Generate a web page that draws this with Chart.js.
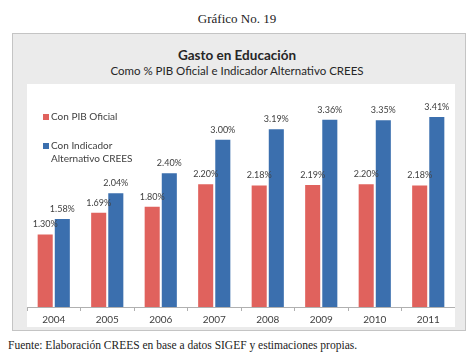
<!DOCTYPE html>
<html>
<head>
<meta charset="utf-8">
<script src="https://cdn.jsdelivr.net/npm/chart.js@4/dist/chart.umd.min.js"></script>
<style>
  html, body { margin: 0; padding: 0; background: #ffffff; }
  body { width: 474px; height: 355px; position: relative; overflow: hidden; }
  #hdr { position: absolute; left: 0; top: 11px; width: 474px; text-align: center;
         font-family: "Liberation Serif", "DejaVu Serif", serif; font-size: 13px; color: #222; }
  #box { position: absolute; left: 12px; top: 33px; width: 454px; height: 298px;
         background: #ebebeb; border: 1px solid #c4c4c4; box-sizing: border-box; }
  #title { position: absolute; left: 0; top: 47px; width: 474px; text-align: center;
           font-family: Lato, "Open Sans", sans-serif; font-weight: bold; font-size: 13.5px; color: #262626; }
  #subtitle { position: absolute; left: 0; top: 64px; width: 474px; text-align: center;
           font-family: Lato, "Open Sans", sans-serif; font-size: 11.5px; color: #262626; }
  #plot { position: absolute; left: 27px; top: 84px; width: 428px; height: 243px; background: #ffffff; }
  #foot { position: absolute; left: 8px; top: 339px; white-space: nowrap;
          font-family: "Liberation Serif", "DejaVu Serif", serif; font-size: 11.5px; color: #222; }
</style>
</head>
<body>
<div id="hdr">Gráfico No. 19</div>
<div id="box"></div>
<div id="title">Gasto en Educación</div>
<div id="subtitle">Como % PIB Oficial e Indicador Alternativo CREES</div>
<div id="plot"><canvas id="c" width="428" height="243"></canvas></div>
<div id="foot">Fuente: Elaboración CREES en base a datos SIGEF y estimaciones propias.</div>
<script>
const years = ['2004', '2005', '2006', '2007', '2008', '2009', '2010', '2011'];
const seriesNames = ['Con PIB Oficial', 'Con Indicador Alternativo CREES'];
const pibOficial = [1.30, 1.69, 1.80, 2.20, 2.18, 2.19, 2.20, 2.18];
const indicadorCrees = [1.58, 2.04, 2.40, 3.00, 3.19, 3.36, 3.35, 3.41];
const seriesColors = ['#e0625d', '#3b6fae'];

const FONT = 'Lato, "Open Sans", sans-serif';

const valueLabels = {
  id: 'valueLabels',
  afterDatasetsDraw(chart) {
    const ctx = chart.ctx;
    ctx.save();
    ctx.font = '9px ' + FONT;
    ctx.fillStyle = '#404040';
    ctx.textAlign = 'center';
    ctx.textBaseline = 'middle';
    chart.data.datasets.forEach((ds, i) => {
      chart.getDatasetMeta(i).data.forEach((bar, j) => {
        ctx.fillText(ds.data[j].toFixed(2) + '%', bar.x, bar.y - 10);
      });
    });
    ctx.restore();
  }
};

const insideLegend = {
  id: 'insideLegend',
  afterDraw(chart) {
    const ctx = chart.ctx;
    ctx.save();
    ctx.font = '10px ' + FONT;
    ctx.textBaseline = 'middle';
    ctx.textAlign = 'left';
    const x0 = 16, maxW = 90, lineH = 13;
    let y = 33;
    chart.data.datasets.forEach((ds) => {
      const words = ds.label.split(' ');
      const lines = [];
      let cur = '';
      words.forEach(w => {
        const t = cur ? cur + ' ' + w : w;
        if (ctx.measureText(t).width > maxW && cur) { lines.push(cur); cur = w; } else { cur = t; }
      });
      if (cur) lines.push(cur);
      ctx.fillStyle = ds.backgroundColor;
      ctx.fillRect(x0, y - 3, 6, 6);
      ctx.fillStyle = '#404040';
      lines.forEach((ln, k) => ctx.fillText(ln, x0 + 8, y + k * lineH));
      y += 29;
    });
    ctx.restore();
  }
};

new Chart(document.getElementById('c'), {
  type: 'bar',
  data: {
    labels: years,
    datasets: [
      { label: seriesNames[0], data: pibOficial, backgroundColor: seriesColors[0] },
      { label: seriesNames[1], data: indicadorCrees, backgroundColor: seriesColors[1] }
    ]
  },
  options: {
    responsive: false,
    animation: false,
    layout: { padding: 0 },
    categoryPercentage: 0.64,
    barPercentage: 0.88,
    plugins: { legend: { display: false }, tooltip: { enabled: false }, title: { display: false } },
    scales: {
      x: {
        offset: true,
        grid: { display: true, drawOnChartArea: false, drawTicks: true, tickLength: 4, color: '#b0b0b0', offset: true },
        border: { display: true, color: '#b0b0b0' },
        ticks: { font: { family: FONT, size: 10 }, color: '#404040', padding: 3 },
        afterFit(scale) { scale.height = 20; }
      },
      y: {
        display: false,
        min: 0,
        max: 4
      }
    }
  },
  plugins: [valueLabels, insideLegend]
});
</script>
</body>
</html>
